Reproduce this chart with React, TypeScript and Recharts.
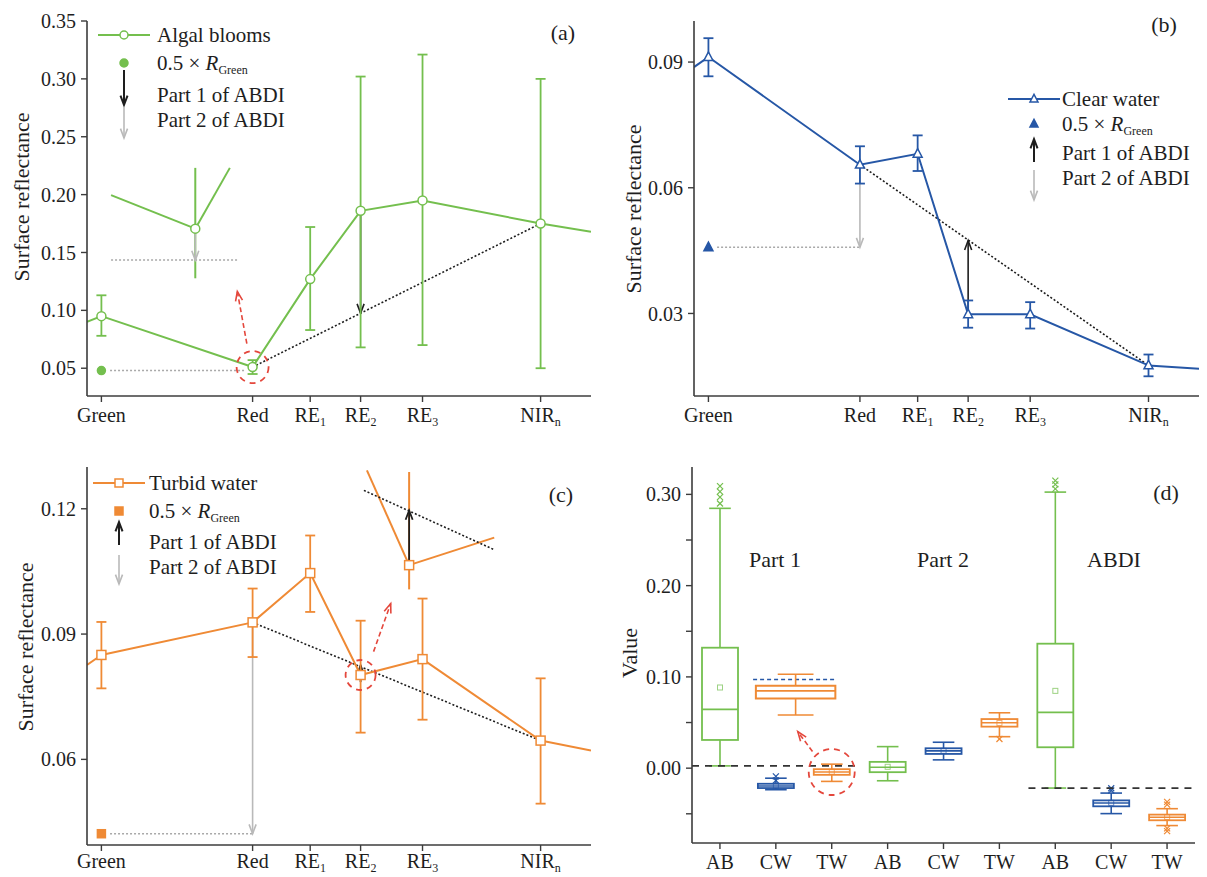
import React from 'react'
import {
  ComposedChart, Line, Bar, XAxis, YAxis, ErrorBar,
  ReferenceLine, ReferenceDot, ReferenceArea,
} from 'recharts'

const FONT = '"Liberation Serif", "Times New Roman", serif'
const GREEN = '#74bf4e'
const BLUE = '#2657a6'
const ORANGE = '#ef8a35'
const GREY = '#b9b9b9'
const DOTGREY = '#a9a9a9'
const RED = '#e4473c'
const INK = '#1e1e1e'
const AXIS = '#3c3c3c'

// ── Band axis (Sentinel-2 centre wavelengths, nm) ─────────────
const bandNm = [560, 665, 705, 740, 783, 865]
const bandName = ['Green', 'Red', 'RE', 'RE', 'RE', 'NIR']
const bandSub = ['', '', '1', '2', '3', 'n']
const xEdges = [550, 900]

// ── (a) Algal blooms ──────────────────────────────────
const abMean = [0.095, 0.051, 0.127, 0.186, 0.195, 0.175]
const abLow = [0.078, 0.045, 0.083, 0.068, 0.07, 0.05]
const abHigh = [0.113, 0.057, 0.172, 0.302, 0.321, 0.3]
const abEdge = [0.09, 0.168]
const abHalfGreen = 0.048
const abPart1 = [0.186, 0.0975]
const abRedArrow = [[661, 0.0712], [654.4, 0.1162]]
const abInsetCurve = [[566.7, 0.1996], [625.2, 0.1706], [649.2, 0.2231]]
const abInsetBar = [0.2231, 0.1277]
const abInsetHalf = 0.1434

// ── (b) Clear water ───────────────────────────────────
const cwMean = [0.0912, 0.0655, 0.0681, 0.0298, 0.0298, 0.0176]
const cwLow = [0.0866, 0.061, 0.064, 0.0266, 0.0264, 0.015]
const cwHigh = [0.0957, 0.0699, 0.0725, 0.0331, 0.0327, 0.0202]
const cwEdge = [0.0888, 0.0168]
const cwHalfGreen = 0.0458
const cwPart1 = [0.0298, 0.0474]

// ── (c) Turbid water ──────────────────────────────────
const twMean = [0.085, 0.0928, 0.1046, 0.0802, 0.084, 0.0645]
const twLow = [0.077, 0.0845, 0.0953, 0.0664, 0.0695, 0.0494]
const twHigh = [0.0929, 0.1009, 0.1136, 0.0932, 0.0985, 0.0794]
const twEdge = [0.0826, 0.0621]
const twHalfGreen = 0.0422
const twPart1 = [0.0785, 0.0825]
const twRedArrow = [[749, 0.0858], [760.9, 0.0973]]
const twInsetCurve = [[744.4, 0.1292], [773.7, 0.1065], [832.8, 0.1131]]
const twInsetBar = [0.1288, 0.1007]
const twInsetBase = [[742.3, 0.1244], [832.8, 0.1102]]
const twInsetPart1 = [0.1065, 0.1196]

// ── (d) Box plots: Part 1 | Part 2 | ABDI ───────────────
const boxCats = ['AB', 'CW', 'TW', 'AB', 'CW', 'TW', 'AB', 'CW', 'TW']
const boxLo = [0.0025, -0.0236, -0.0145, -0.0138, 0.0091, 0.0345, -0.0218, -0.0498, -0.0629]
const boxQ1 = [0.0309, -0.0218, -0.0073, -0.0044, 0.0156, 0.0455, 0.0229, -0.0418, -0.0571]
const boxMed = [0.0644, -0.0195, -0.0042, 0.001, 0.019, 0.0498, 0.0611, -0.0382, -0.0538]
const boxQ3 = [0.132, -0.0171, -0.0011, 0.0069, 0.0218, 0.0538, 0.1364, -0.0353, -0.0509]
const boxHi = [0.2847, -0.011, 0.0044, 0.0236, 0.0284, 0.0607, 0.3025, -0.0273, -0.0444]
const boxMean = [0.0884, -0.0193, -0.004, 0.0015, 0.019, 0.0495, 0.0847, -0.038, -0.0535]
const boxOut = [
  [0.29, 0.297, 0.303, 0.309], [-0.0135, -0.009], [], [], [], [0.032],
  [0.306, 0.311, 0.315], [-0.0245, -0.022], [-0.04, -0.037, -0.066, -0.069],
]
const groupNames = ['Part 1', 'Part 2', 'ABDI']
// magnified TW box of Part 1 (x in slot units, category i centre = i + 0.5)
const insetX = [1.143, 2.565]
const insetBox = [0.0582, 0.0764, 0.0847, 0.0902, 0.1029]
const insetRef = 0.0971
const zeroRefs = [[0, 2.93, 0.0025], [6.02, 9, -0.0218]]
const dRedArrow = [[2.156, 0.0182], [1.893, 0.04]]

const catColor: Record<string, string> = { AB: GREEN, CW: BLUE, TW: ORANGE }

// ── helpers ───────────────────────────────────────────
function arrowEl(x1: number, y1: number, x2: number, y2: number, color: string, w = 1.6, dash?: string, key?: any) {
  const ang = Math.atan2(y2 - y1, x2 - x1)
  const L = 10, s = 0.36
  const a1 = ang + Math.PI - s, a2 = ang + Math.PI + s
  return (
    <g key={key}>
      <line x1={x1} y1={y1} x2={x2} y2={y2} stroke={color} strokeWidth={w} strokeDasharray={dash} />
      <polyline
        points={`${x2 + L * Math.cos(a1)},${y2 + L * Math.sin(a1)} ${x2},${y2} ${x2 + L * Math.cos(a2)},${y2 + L * Math.sin(a2)}`}
        fill="none" stroke={color} strokeWidth={w} />
    </g>
  )
}

function mark(kind: string, cx: number, cy: number, color: string, filled: boolean, s = 4.5, key?: any) {
  const fill = filled ? color : '#fff'
  if (kind === 'circle') return <circle key={key} cx={cx} cy={cy} r={s} fill={fill} stroke={color} strokeWidth={1.5} />
  if (kind === 'triangle')
    return <polygon key={key} points={`${cx},${cy - s * 1.15} ${cx - s},${cy + s * 0.75} ${cx + s},${cy + s * 0.75}`}
      fill={fill} stroke={color} strokeWidth={1.5} />
  return <rect key={key} x={cx - s} y={cy - s} width={2 * s} height={2 * s} fill={fill} stroke={color} strokeWidth={1.5} />
}

const seg = (key: string, p1: number[], p2: number[], stroke: string, w = 1.6, dash?: string) => (
  <ReferenceLine key={key} segment={[{ x: p1[0], y: p1[1] }, { x: p2[0], y: p2[1] }]}
    stroke={stroke} strokeWidth={w} strokeDasharray={dash} ifOverflow="visible" />
)

const arrow = (key: string, p1: number[], p2: number[], stroke: string, w = 1.6, dash?: string) => (
  <ReferenceLine key={key} segment={[{ x: p1[0], y: p1[1] }, { x: p2[0], y: p2[1] }]}
    ifOverflow="visible"
    shape={(p: any) => arrowEl(p.x1, p.y1, p.x2, p.y2, stroke, w, dash)} />
)

const dot = (key: string, x: number, y: number, draw: (cx: number, cy: number) => any) => (
  <ReferenceDot key={key} x={x} y={y} r={4} ifOverflow="visible"
    shape={(p: any) => draw(p.cx, p.cy)} />
)

const makeBandTick = (dy: number, subDy: number) => (p: any) => {
  const i = bandNm.indexOf(p.payload.value)
  return (
    <text x={p.x} y={p.y} dy={dy} textAnchor="middle" fontFamily={FONT} fontSize={20} fill={INK}>
      {bandName[i]}
      {bandSub[i] && <tspan fontSize={12} dy={subDy}>{bandSub[i]}</tspan>}
    </text>
  )
}

const axisLine = { stroke: AXIS, strokeWidth: 1.6 }
const tickStyle = { fontSize: 20, fontFamily: FONT, fill: INK }

// ── Spectrum panel (a–c) ──────────────────────────────
function SpectrumPanel(props: {
  left: number; top: number; width: number; height: number; margin: any; xHeight: number; tickDy: number
  yDomain: number[]; yTicks: number[]; mean: number[]; low: number[]; high: number[]; edge: number[]
  color: string; kind: string; extras: any[]
}) {
  const { left, top, width, height, margin, xHeight, tickDy, yDomain, yTicks, mean, low, high, edge, color, kind, extras } = props
  const rows = bandNm.map((x, i) => ({ x, v: mean[i], err: [mean[i] - low[i], high[i] - mean[i]] }))
  const leftExt = [{ x: xEdges[0], v: edge[0] }, { x: bandNm[0], v: mean[0] }]
  const rightExt = [{ x: bandNm[5], v: mean[5] }, { x: xEdges[1], v: edge[1] }]
  const Tick = makeBandTick(tickDy, 4)
  return (
    <div style={{ position: 'absolute', left, top }}>
      <ComposedChart width={width} height={height} data={rows} margin={margin}>
        <XAxis type="number" dataKey="x" domain={xEdges} ticks={bandNm} interval={0} allowDataOverflow
          tick={<Tick />} tickSize={6} tickMargin={2} height={xHeight}
          axisLine={axisLine} tickLine={{ stroke: AXIS, strokeWidth: 1.4 }} />
        <YAxis type="number" domain={yDomain} ticks={yTicks} allowDataOverflow width={60}
          tickFormatter={(v: number) => v.toFixed(2)} tick={tickStyle} tickSize={6} tickMargin={5}
          axisLine={axisLine} tickLine={{ stroke: AXIS, strokeWidth: 1.4 }} />
        <Line data={leftExt} dataKey="v" stroke={color} strokeWidth={2} dot={false} isAnimationActive={false} />
        <Line data={rightExt} dataKey="v" stroke={color} strokeWidth={2} dot={false} isAnimationActive={false} />
        {extras}
        <Line dataKey="v" stroke={color} strokeWidth={2} isAnimationActive={false}
          dot={(p: any) => mark(kind, p.cx, p.cy, color, false, 4.5, p.index)}>
          <ErrorBar dataKey="err" stroke={color} strokeWidth={1.8} width={5} />
        </Line>
      </ComposedChart>
    </div>
  )
}

const dashedCircle = (r: number) => (cx: number, cy: number) => (
  <circle cx={cx} cy={cy} r={r} fill="none" stroke={RED} strokeWidth={1.8} strokeDasharray="6 5" />
)

const extrasA = [
  seg('base', [bandNm[1], abMean[1]], [bandNm[5], abMean[5]], INK, 1.6, '2 2'),
  seg('half', [566, abHalfGreen], [660, abHalfGreen], DOTGREY, 1.5, '2 2'),
  arrow('p1', [bandNm[3], abPart1[0]], [bandNm[3], abPart1[1]], INK, 1.6),
  dot('hg', bandNm[0], abHalfGreen, (cx, cy) => mark('circle', cx, cy, GREEN, true, 4)),
  dot('circ', bandNm[1], abMean[1], dashedCircle(16)),
  arrow('red', abRedArrow[0], abRedArrow[1], RED, 1.6, '5 3'),
  seg('i1', abInsetCurve[0], abInsetCurve[1], GREEN, 2),
  seg('i2', abInsetCurve[1], abInsetCurve[2], GREEN, 2),
  seg('i3', [abInsetCurve[1][0], abInsetBar[0]], [abInsetCurve[1][0], abInsetBar[1]], GREEN, 2),
  seg('i4', [abInsetCurve[0][0], abInsetHalf], [654.4, abInsetHalf], DOTGREY, 1.5, '2 2'),
  arrow('i5', abInsetCurve[1], [abInsetCurve[1][0], abInsetHalf], GREY, 1.6),
  dot('i6', abInsetCurve[1][0], abInsetCurve[1][1], (cx, cy) => mark('circle', cx, cy, GREEN, false, 4.5)),
]

const extrasB = [
  seg('base', [bandNm[1], cwMean[1]], [bandNm[5], cwMean[5]], INK, 1.6, '2 2'),
  seg('half', [566, cwHalfGreen], [bandNm[1], cwHalfGreen], DOTGREY, 1.5, '2 2'),
  arrow('p2', [bandNm[1], cwMean[1]], [bandNm[1], cwHalfGreen], GREY, 1.6),
  arrow('p1', [bandNm[3], cwPart1[0]], [bandNm[3], cwPart1[1]], INK, 1.6),
  dot('hg', bandNm[0], cwHalfGreen, (cx, cy) => mark('triangle', cx, cy, BLUE, true, 4.5)),
]

const extrasC = [
  seg('base', [bandNm[1], twMean[1]], [bandNm[5], twMean[5]], INK, 1.6, '2 2'),
  seg('half', [566, twHalfGreen], [bandNm[1], twHalfGreen], DOTGREY, 1.5, '2 2'),
  arrow('p2', [bandNm[1], twMean[1]], [bandNm[1], twHalfGreen], GREY, 1.6),
  arrow('p1', [bandNm[3], twPart1[0]], [bandNm[3], twPart1[1]], INK, 1.8),
  dot('hg', bandNm[0], twHalfGreen, (cx, cy) => mark('square', cx, cy, ORANGE, true, 4)),
  dot('circ', bandNm[3], twMean[3], dashedCircle(15)),
  arrow('red', twRedArrow[0], twRedArrow[1], RED, 1.6, '5 3'),
  seg('i1', twInsetCurve[0], twInsetCurve[1], ORANGE, 2),
  seg('i2', twInsetCurve[1], twInsetCurve[2], ORANGE, 2),
  seg('i3', [twInsetCurve[1][0], twInsetBar[0]], [twInsetCurve[1][0], twInsetBar[1]], ORANGE, 2),
  seg('i4', twInsetBase[0], twInsetBase[1], INK, 1.6, '2 2'),
  arrow('i5', [twInsetCurve[1][0], twInsetPart1[0]], [twInsetCurve[1][0], twInsetPart1[1]], INK, 1.8),
  dot('i6', twInsetCurve[1][0], twInsetCurve[1][1], (cx, cy) => mark('square', cx, cy, ORANGE, false, 4.5)),
]

// ── Box panel (d) ─────────────────────────────────────
const BoxShape = (p: any) => {
  const { x, y, width, height, payload: d } = p
  const top = Math.min(y, y + height), bot = Math.max(y, y + height)
  const py = (v: number) => bot - ((v - d.lo) / (d.hi - d.lo)) * (bot - top)
  const cx = x + width / 2
  const c = catColor[d.cat]
  const cap = width * 0.3
  return (
    <g>
      <line x1={cx} x2={cx} y1={py(d.hi)} y2={py(d.q3)} stroke={c} strokeWidth={1.6} />
      <line x1={cx} x2={cx} y1={py(d.q1)} y2={py(d.lo)} stroke={c} strokeWidth={1.6} />
      <line x1={cx - cap} x2={cx + cap} y1={py(d.hi)} y2={py(d.hi)} stroke={c} strokeWidth={1.6} />
      <line x1={cx - cap} x2={cx + cap} y1={py(d.lo)} y2={py(d.lo)} stroke={c} strokeWidth={1.6} />
      <rect x={x} y={py(d.q3)} width={width} height={Math.max(2, py(d.q1) - py(d.q3))}
        fill="#fff" stroke={c} strokeWidth={1.8} />
      <line x1={x} x2={x + width} y1={py(d.med)} y2={py(d.med)} stroke={c} strokeWidth={1.6} />
      <rect x={cx - 2.5} y={py(d.mean) - 2.5} width={5} height={5} fill="none" stroke={c} strokeWidth={1} opacity={0.7} />
      {d.out.map((o: number, k: number) => (
        <g key={k} stroke={c} strokeWidth={1.2}>
          <line x1={cx - 3} x2={cx + 3} y1={py(o) - 3} y2={py(o) + 3} />
          <line x1={cx - 3} x2={cx + 3} y1={py(o) + 3} y2={py(o) - 3} />
        </g>
      ))}
    </g>
  )
}

function BoxPanel() {
  const rows = boxCats.map((cat, i) => ({
    pos: i + 0.5, cat, lo: boxLo[i], q1: boxQ1[i], med: boxMed[i], q3: boxQ3[i], hi: boxHi[i],
    mean: boxMean[i], out: boxOut[i],
  }))
  const [wLo, bQ1, bMed, bQ3, wHi] = insetBox
  const mid = (insetX[0] + insetX[1]) / 2
  const capHalf = 0.32
  return (
    <div style={{ position: 'absolute', left: 600, top: 430 }}>
      <ComposedChart width={607} height={447} data={rows} margin={{ top: 37, right: 12, bottom: 0, left: 32 }}>
        <XAxis dataKey="pos" type="number" domain={[0, 9]} ticks={rows.map((r) => r.pos)} interval={0}
          allowDataOverflow height={34}
          tickFormatter={(v: number) => boxCats[Math.floor(v)]} tick={tickStyle} tickSize={6} tickMargin={6}
          axisLine={axisLine} tickLine={{ stroke: AXIS, strokeWidth: 1.4 }} />
        <YAxis type="number" domain={[-0.082, 0.33]} allowDataOverflow width={60}
          ticks={[-0.05, 0, 0.05, 0.1, 0.15, 0.2, 0.25, 0.3]}
          tickFormatter={(v: number) => (Math.abs(Math.round(v * 100) % 10) === 0 ? v.toFixed(2) : '')}
          tick={tickStyle} tickSize={6} tickMargin={5}
          axisLine={axisLine} tickLine={{ stroke: AXIS, strokeWidth: 1.4 }} />
        {zeroRefs.map((r, i) => seg(`z${i}`, [r[0], r[2]], [r[1], r[2]], '#333', 1.8, '7 6'))}
        <Bar dataKey={(d: any) => [d.lo, d.hi]} barSize={36} shape={BoxShape} isAnimationActive={false} />
        {seg('ir', [insetX[0] - 0.05, insetRef], [insetX[1] - 0.01, insetRef], BLUE, 1.4, '4 3')}
        {seg('iw1', [mid, wHi], [mid, bQ3], ORANGE, 1.6)}
        {seg('iw2', [mid, bQ1], [mid, wLo], ORANGE, 1.6)}
        {seg('ic1', [mid - capHalf, wHi], [mid + capHalf, wHi], ORANGE, 1.6)}
        {seg('ic2', [mid - capHalf, wLo], [mid + capHalf, wLo], ORANGE, 1.6)}
        <ReferenceArea x1={insetX[0]} x2={insetX[1]} y1={bQ1} y2={bQ3} ifOverflow="visible"
          fill="#fff" fillOpacity={1} stroke={ORANGE} strokeWidth={2} />
        {seg('im', [insetX[0], bMed], [insetX[1], bMed], ORANGE, 1.6)}
        {dot('circ', 2.5, boxMed[2], dashedCircle(23))}
        {arrow('red', dRedArrow[0], dRedArrow[1], RED, 1.6, '5 3')}
      </ComposedChart>
    </div>
  )
}

// ── Legends, titles and labels ─────────────────────────
function LegendBlock(p: {
  sx: number; tx: number; ys: number[]; color: string; kind: string; label: string
  a1: number[]; a2: number[]
}) {
  const { sx, tx, ys, color, kind, label, a1, a2 } = p
  const t = (y: number) => y + 7
  return (
    <g fontSize={21} fill={INK}>
      <line x1={sx - 26} x2={sx + 26} y1={ys[0]} y2={ys[0]} stroke={color} strokeWidth={2} />
      {mark(kind, sx, ys[0], color, false, 4)}
      <text x={tx} y={t(ys[0])}>{label}</text>
      {mark(kind, sx, ys[1], color, true, 4)}
      <text x={tx} y={t(ys[1])}>
        0.5 × <tspan fontStyle="italic">R</tspan><tspan fontSize={12} dy={4}>Green</tspan>
      </text>
      {arrowEl(sx, a1[0], sx, a1[1], INK, 2)}
      <text x={tx} y={t(ys[2])}>Part 1 of ABDI</text>
      {arrowEl(sx, a2[0], sx, a2[1], GREY, 1.6)}
      <text x={tx} y={t(ys[3])}>Part 2 of ABDI</text>
    </g>
  )
}

function VTitle({ x, y, text }: { x: number; y: number; text: string }) {
  return (
    <text x={x} y={y} transform={`rotate(-90 ${x} ${y})`} textAnchor="middle" dominantBaseline="central"
      fontSize={22} fill={INK}>{text}</text>
  )
}

function Overlay() {
  return (
    <svg width={1207} height={877} fontFamily={FONT}
      style={{ position: 'absolute', left: 0, top: 0, pointerEvents: 'none' }}>
      <LegendBlock sx={124} tx={157} ys={[35, 63, 95, 120]} color={GREEN} kind="circle" label="Algal blooms"
        a1={[70, 105]} a2={[107, 138]} />
      <LegendBlock sx={1034} tx={1062} ys={[99, 124, 153, 178]} color={BLUE} kind="triangle" label="Clear water"
        a1={[162, 139]} a2={[170, 200]} />
      <LegendBlock sx={119} tx={149} ys={[483, 511, 542, 567]} color={ORANGE} kind="square" label="Turbid water"
        a1={[545, 522]} a2={[555, 584]} />
      <VTitle x={21} y={197} text="Surface reflectance" />
      <VTitle x={633} y={209} text="Surface reflectance" />
      <VTitle x={25} y={647} text="Surface reflectance" />
      <VTitle x={629} y={653} text="Value" />
      <g fontSize={22} fill={INK} textAnchor="middle">
        <text x={563} y={40}>(a)</text>
        <text x={1164} y={32}>(b)</text>
        <text x={561} y={502}>(c)</text>
        <text x={1166} y={500}>(d)</text>
        <text x={775} y={567}>{groupNames[0]}</text>
        <text x={943} y={567}>{groupNames[1]}</text>
        <text x={1114} y={567}>{groupNames[2]}</text>
      </g>
    </svg>
  )
}

export default function App() {
  return (
    <div style={{ position: 'absolute', left: 0, top: 0, width: 1207, height: 877, background: '#fff', fontFamily: FONT }}>
      <SpectrumPanel left={0} top={0} width={600} height={430} xHeight={34} tickDy={18}
        margin={{ top: 21, right: 9, bottom: 0, left: 27 }}
        yDomain={[0.026, 0.35]} yTicks={[0.05, 0.1, 0.15, 0.2, 0.25, 0.3, 0.35]}
        mean={abMean} low={abLow} high={abHigh} edge={abEdge} color={GREEN} kind="circle" extras={extrasA} />
      <SpectrumPanel left={600} top={0} width={607} height={430} xHeight={34} tickDy={18}
        margin={{ top: 21, right: 8, bottom: 0, left: 34 }}
        yDomain={[0.0103, 0.0998]} yTicks={[0.03, 0.06, 0.09]}
        mean={cwMean} low={cwLow} high={cwHigh} edge={cwEdge} color={BLUE} kind="triangle" extras={extrasB} />
      <SpectrumPanel left={0} top={430} width={600} height={447} xHeight={32} tickDy={15}
        margin={{ top: 37, right: 9, bottom: 0, left: 27 }}
        yDomain={[0.0395, 0.13]} yTicks={[0.06, 0.09, 0.12]}
        mean={twMean} low={twLow} high={twHigh} edge={twEdge} color={ORANGE} kind="square" extras={extrasC} />
      <BoxPanel />
      <Overlay />
    </div>
  )
}
